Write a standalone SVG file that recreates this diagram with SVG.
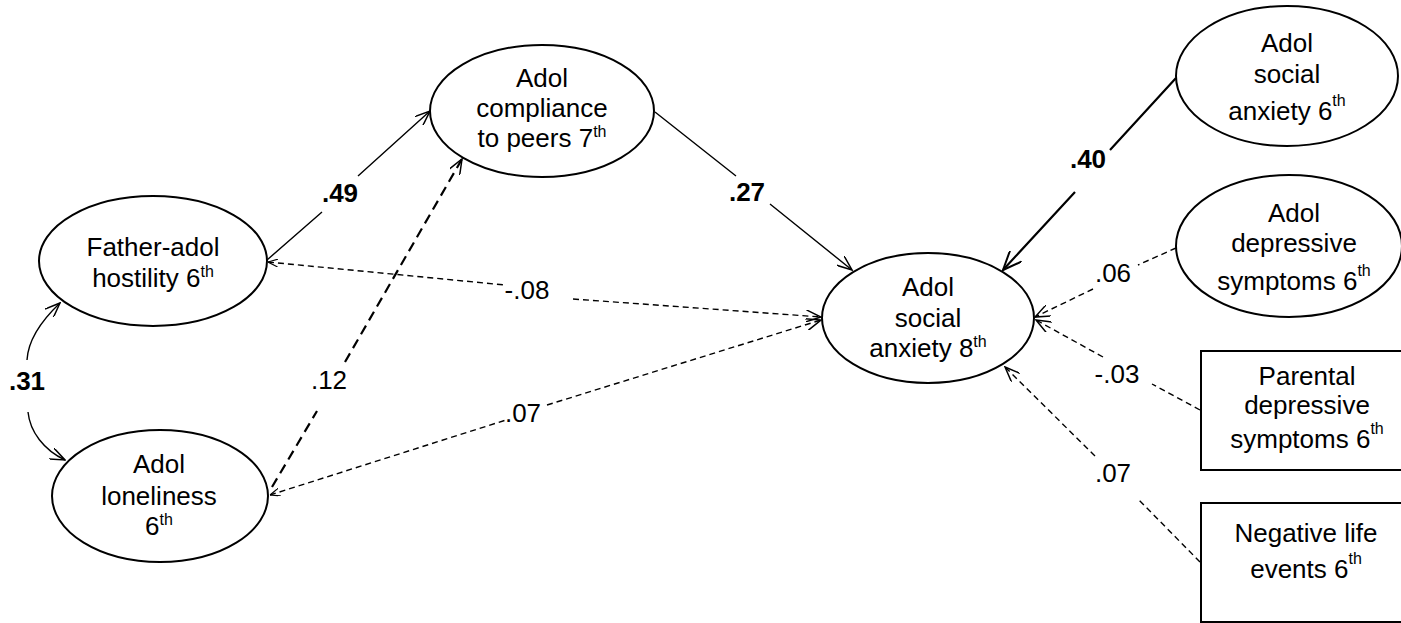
<svg xmlns="http://www.w3.org/2000/svg" width="1401" height="623" viewBox="0 0 1401 623">
<style>
  .node { fill: #fff; stroke: #000; stroke-width: 2; }
  .t { font-family: "Liberation Sans", Arial, sans-serif; font-size: 26px; fill: #000; text-anchor: middle; }
  .sup { font-size: 16px; }
  .lbl { font-family: "Liberation Sans", Arial, sans-serif; font-size: 26px; fill: #000; text-anchor: middle; }
  .b { font-weight: bold; }
  .solid { fill: none; stroke: #000; stroke-width: 1.4; }
  .solidB { fill: none; stroke: #000; stroke-width: 2.2; }
  .dash { fill: none; stroke: #000; stroke-width: 1.4; stroke-dasharray: 6 4; }
  .dashB { fill: none; stroke: #000; stroke-width: 2.2; stroke-dasharray: 10 6; }
</style>
<defs>
  <marker id="arr" viewBox="0 0 16 12" refX="15" refY="6" markerWidth="16" markerHeight="12" orient="auto-start-reverse" markerUnits="userSpaceOnUse">
    <path d="M0,0 L15,6 L0,12" fill="none" stroke="#000" stroke-width="1.5" stroke-dasharray="none"/>
  </marker>
  <marker id="arrB" viewBox="0 0 20 16" refX="19" refY="8" markerWidth="20" markerHeight="16" orient="auto-start-reverse" markerUnits="userSpaceOnUse">
    <path d="M0,0 L19,8 L0,16" fill="none" stroke="#000" stroke-width="2" stroke-dasharray="none"/>
  </marker>
  <marker id="arrS" viewBox="0 0 10 8" refX="10" refY="4" markerWidth="10" markerHeight="8" orient="auto-start-reverse" markerUnits="userSpaceOnUse">
    <path d="M0,0 L10,4 L0,8" fill="none" stroke="#000" stroke-width="1.2" stroke-dasharray="none"/>
  </marker>
</defs>

<g id="connectors">
  <!-- .31 correlation -->
  <path class="solid" d="M60,303 C40,322 28,342 27,360" marker-start="url(#arr)"/>
  <path class="solid" d="M28,412 C30,432 44,450 65,460" marker-end="url(#arr)"/>
  <text class="lbl b" x="27" y="390">.31</text>
  <!-- .49 -->
  <path class="solid" d="M267,260 L322,212 M358,176 L430,111" marker-end="url(#arr)"/>
  <text class="lbl b" x="340" y="202">.49</text>
  <!-- .12 -->
  <path class="dashB" d="M272,487 L317,411 M345,362 L462,159" marker-end="url(#arr)"/>
  <text class="lbl" x="329" y="389">.12</text>
  <!-- -.08 -->
  <path class="dash" d="M268,262 L505,285 M573,299 L821,317" marker-start="url(#arrS)" marker-end="url(#arr)"/>
  <text class="lbl" x="527" y="299">-.08</text>
  <!-- .07 left -->
  <path class="dash" d="M270,495 L506,420 M547,405 L821,320" marker-start="url(#arrS)" marker-end="url(#arr)"/>
  <text class="lbl" x="523" y="422">.07</text>
  <!-- .27 -->
  <path class="solid" d="M655,112 L736,176 M770,204 L852,270" marker-end="url(#arr)"/>
  <text class="lbl b" x="747" y="201">.27</text>
  <!-- .40 -->
  <path class="solidB" d="M1176,78 L1110,150 M1075,192 L1003,270" marker-end="url(#arrB)"/>
  <text class="lbl b" x="1088" y="168">.40</text>
  <!-- .06 -->
  <path class="dash" d="M1176,248 L1138,265 M1093,289 L1035,317" marker-end="url(#arr)"/>
  <text class="lbl" x="1113" y="282">.06</text>
  <!-- -.03 -->
  <path class="dash" d="M1200,410 L1152,384 M1103,357 L1036,320" marker-end="url(#arr)"/>
  <text class="lbl" x="1117" y="383">-.03</text>
  <!-- .07 right -->
  <path class="dash" d="M1200,562 L1138,499 M1095,456 L1005,367" marker-end="url(#arr)"/>
  <text class="lbl" x="1113" y="482">.07</text>
</g>

<g id="father">
  <ellipse class="node" cx="153" cy="261" rx="114" ry="65"/>
  <text class="t"><tspan x="153" y="256">Father-adol</tspan><tspan x="153" y="287">hostility 6<tspan class="sup" dy="-10">th</tspan></tspan></text>
</g>

<g id="loneliness">
  <ellipse class="node" cx="160" cy="496" rx="108" ry="66"/>
  <text class="t"><tspan x="159" y="473">Adol</tspan><tspan x="159" y="505">loneliness</tspan><tspan x="159" y="535">6<tspan class="sup" dy="-10">th</tspan></tspan></text>
</g>

<g id="compliance">
  <ellipse class="node" cx="542" cy="111" rx="112" ry="66"/>
  <text class="t"><tspan x="542" y="87">Adol</tspan><tspan x="542" y="117">compliance</tspan><tspan x="542" y="147">to peers 7<tspan class="sup" dy="-10">th</tspan></tspan></text>
</g>

<g id="anxiety8">
  <ellipse class="node" cx="928" cy="318" rx="106" ry="65"/>
  <text class="t"><tspan x="928" y="296">Adol</tspan><tspan x="928" y="327">social</tspan><tspan x="928" y="357">anxiety 8<tspan class="sup" dy="-10">th</tspan></tspan></text>
</g>

<g id="anxiety6">
  <ellipse class="node" cx="1287" cy="76" rx="111" ry="70"/>
  <text class="t"><tspan x="1287" y="52">Adol</tspan><tspan x="1287" y="83">social</tspan><tspan x="1287" y="120">anxiety 6<tspan class="sup" dy="-14">th</tspan></tspan></text>
</g>

<g id="depressive6">
  <ellipse class="node" cx="1289" cy="246" rx="113" ry="71"/>
  <text class="t"><tspan x="1294" y="222">Adol</tspan><tspan x="1294" y="252">depressive</tspan><tspan x="1294" y="290">symptoms 6<tspan class="sup" dy="-14">th</tspan></tspan></text>
</g>

<g id="parental">
  <rect class="node" x="1201" y="351" width="212" height="119"/>
  <text class="t"><tspan x="1307" y="385">Parental</tspan><tspan x="1307" y="414">depressive</tspan><tspan x="1307" y="448">symptoms 6<tspan class="sup" dy="-14">th</tspan></tspan></text>
</g>

<g id="negative">
  <rect class="node" x="1201" y="503" width="212" height="119"/>
  <text class="t"><tspan x="1306" y="542">Negative life</tspan><tspan x="1306" y="578">events 6<tspan class="sup" dy="-14">th</tspan></tspan></text>
</g>
</svg>
